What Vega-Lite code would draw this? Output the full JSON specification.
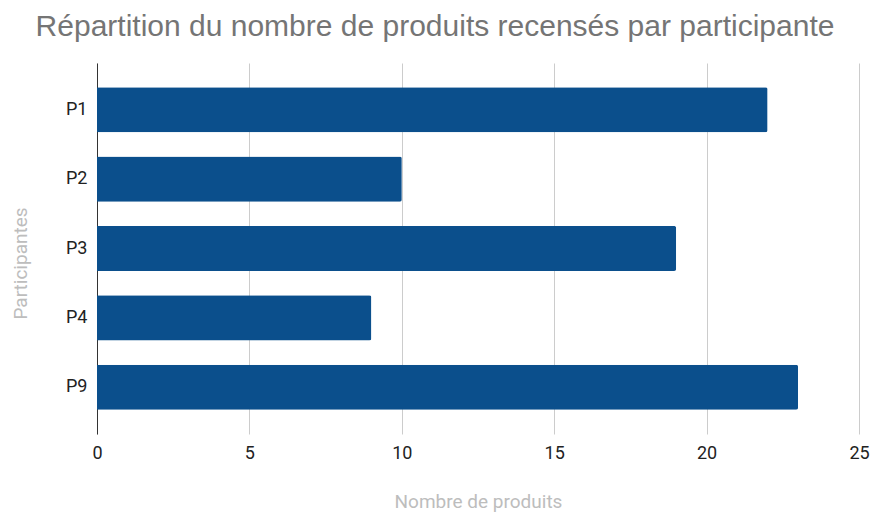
{
  "$schema": "https://vega.github.io/schema/vega-lite/v6.json",
  "width": 762,
  "height": 371,
  "autosize": {"type": "none"},
  "padding": {"left": 97, "top": 63, "right": 12, "bottom": 78},
  "background": "white",
  "title": {
    "text": "Répartition du nombre de produits recensés par participante",
    "font": "Liberation Sans",
    "fontSize": 30,
    "fontWeight": "normal",
    "color": "#757575",
    "anchor": "middle",
    "frame": "group",
    "dx": -43,
    "baseline": "alphabetic",
    "offset": -3
  },
  "data": {
    "values": [
      {"participante": "P1", "produits": 22},
      {"participante": "P2", "produits": 10},
      {"participante": "P3", "produits": 19},
      {"participante": "P4", "produits": 9},
      {"participante": "P9", "produits": 23}
    ]
  },
  "config": {
    "view": {"stroke": null},
    "font": "Roboto"
  },
  "mark": {"type": "bar", "color": "#0b4f8c", "cornerRadiusEnd": 2},
  "encoding": {
    "y": {
      "field": "participante",
      "type": "nominal",
      "sort": ["P1", "P2", "P3", "P4", "P9"],
      "scale": {"paddingInner": 0.35, "paddingOuter": 0.35},
      "axis": {
        "title": "Participantes",
        "titleColor": "#bdbdbd",
        "titleFont": "Roboto",
        "titleFontSize": 19,
        "titleFontWeight": "normal",
        "titleX": -77,
        "titleY": 200,
        "titleAngle": -90,
        "titleAlign": "center",
        "titleBaseline": "middle",
        "labelFont": "Roboto",
        "labelFontSize": 18,
        "labelColor": "#222222",
        "labelPadding": 10,
        "ticks": false,
        "domainColor": "#333333",
        "domainWidth": 1
      }
    },
    "x": {
      "field": "produits",
      "type": "quantitative",
      "scale": {"domain": [0, 25]},
      "axis": {
        "values": [0, 5, 10, 15, 20, 25],
        "title": "Nombre de produits",
        "titleColor": "#bdbdbd",
        "titleFont": "Roboto",
        "titleFontSize": 19,
        "titleFontWeight": "normal",
        "titleY": 67,
        "titleBaseline": "middle",
        "labelFont": "Roboto",
        "labelFontSize": 18,
        "labelColor": "#222222",
        "labelPadding": 10,
        "labelFlush": false,
        "ticks": false,
        "domain": false,
        "grid": true,
        "gridColor": "#cccccc",
        "gridWidth": 1
      }
    }
  }
}
